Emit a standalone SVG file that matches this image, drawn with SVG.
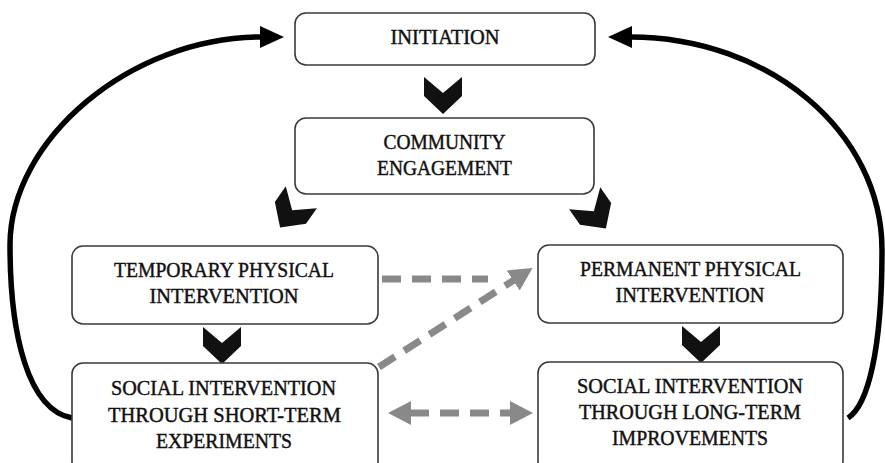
<svg xmlns="http://www.w3.org/2000/svg" width="885" height="463" viewBox="0 0 885 463">
  <style>
    .box { fill: #ffffff; stroke: #3a3a3a; stroke-width: 1.6; }
    .lbl { font-family: "Liberation Serif", "Times New Roman", serif; font-size: 22px; fill: #111111; stroke: #111111; stroke-width: 0.45; text-anchor: middle; }
    .chev { fill: #111111; }
    .loop { fill: none; stroke: #000000; stroke-width: 5.5; }
    .dash { fill: none; stroke: #898989; stroke-width: 7; stroke-dasharray: 19 11; }
  </style>
  <defs>
    <marker id="blackHead" markerUnits="userSpaceOnUse" markerWidth="24" markerHeight="22" refX="2" refY="11" orient="auto">
      <path d="M0,0 L24,11 L0,22 z" fill="#000000"/>
    </marker>
    <marker id="grayHead" markerUnits="userSpaceOnUse" markerWidth="23" markerHeight="24" refX="1" refY="12" orient="auto-start-reverse">
      <path d="M0,0 L23,12 L0,24 z" fill="#898989"/>
    </marker>
    <path id="chevron" d="M0,0 L19,16 L38,0 L38,19 L19,37 L0,19 z"/>
  </defs>

  <g id="connectors">
    <!-- feedback loops back to initiation -->
    <path class="loop" d="M72,418 C28,410 10,335 10,245 C10,140 130,37 262,37" marker-end="url(#blackHead)"/>
    <path class="loop" d="M848,418 C868,405 882,350 882,250 C882,132 769,37 630,37" marker-end="url(#blackHead)"/>
    <!-- flow chevrons -->
    <use href="#chevron" class="chev" transform="translate(443,95) translate(-19,-18)"/>
    <use href="#chevron" class="chev" transform="translate(291,212) rotate(35) translate(-19,-18)"/>
    <use href="#chevron" class="chev" transform="translate(595,213) rotate(-35) translate(-19,-18)"/>
    <use href="#chevron" class="chev" transform="translate(222,345) translate(-19,-18)"/>
    <use href="#chevron" class="chev" transform="translate(701,344) translate(-19,-18)"/>
    <!-- dashed links -->
    <path class="dash" d="M382,279 L488,279"/>
    <path class="dash" d="M379,367 L514,280" marker-end="url(#grayHead)"/>
    <path class="dash" d="M410,413 L511,413" marker-start="url(#grayHead)" marker-end="url(#grayHead)"/>
  </g>

  <g id="initiation">
    <rect class="box" x="295" y="13" width="300" height="52" rx="11"/>
    <text class="lbl" x="445" y="44" textLength="109" lengthAdjust="spacingAndGlyphs">INITIATION</text>
  </g>

  <g id="community-engagement">
    <rect class="box" x="295" y="118" width="299" height="76" rx="11"/>
    <text class="lbl" x="444.5" y="149" textLength="122" lengthAdjust="spacingAndGlyphs">COMMUNITY</text>
    <text class="lbl" x="444.5" y="175" textLength="135" lengthAdjust="spacingAndGlyphs">ENGAGEMENT</text>
  </g>

  <g id="temporary-physical">
    <rect class="box" x="72" y="246" width="306" height="78" rx="11"/>
    <text class="lbl" x="224" y="277" textLength="220" lengthAdjust="spacingAndGlyphs">TEMPORARY PHYSICAL</text>
    <text class="lbl" x="224" y="303" textLength="149" lengthAdjust="spacingAndGlyphs">INTERVENTION</text>
  </g>

  <g id="permanent-physical">
    <rect class="box" x="538" y="245" width="305" height="78" rx="11"/>
    <text class="lbl" x="690.5" y="276" textLength="221" lengthAdjust="spacingAndGlyphs">PERMANENT PHYSICAL</text>
    <text class="lbl" x="690" y="302" textLength="149" lengthAdjust="spacingAndGlyphs">INTERVENTION</text>
  </g>

  <g id="short-term-social">
    <rect class="box" x="72" y="363" width="306" height="110" rx="11"/>
    <text class="lbl" x="223.5" y="395" textLength="225" lengthAdjust="spacingAndGlyphs">SOCIAL INTERVENTION</text>
    <text class="lbl" x="224.5" y="422" textLength="233" lengthAdjust="spacingAndGlyphs">THROUGH SHORT-TERM</text>
    <text class="lbl" x="224" y="448" textLength="136" lengthAdjust="spacingAndGlyphs">EXPERIMENTS</text>
  </g>

  <g id="long-term-social">
    <rect class="box" x="538" y="362" width="305" height="110" rx="11"/>
    <text class="lbl" x="690" y="393" textLength="226" lengthAdjust="spacingAndGlyphs">SOCIAL INTERVENTION</text>
    <text class="lbl" x="690" y="419" textLength="222" lengthAdjust="spacingAndGlyphs">THROUGH LONG-TERM</text>
    <text class="lbl" x="690" y="445" textLength="156" lengthAdjust="spacingAndGlyphs">IMPROVEMENTS</text>
  </g>
</svg>
